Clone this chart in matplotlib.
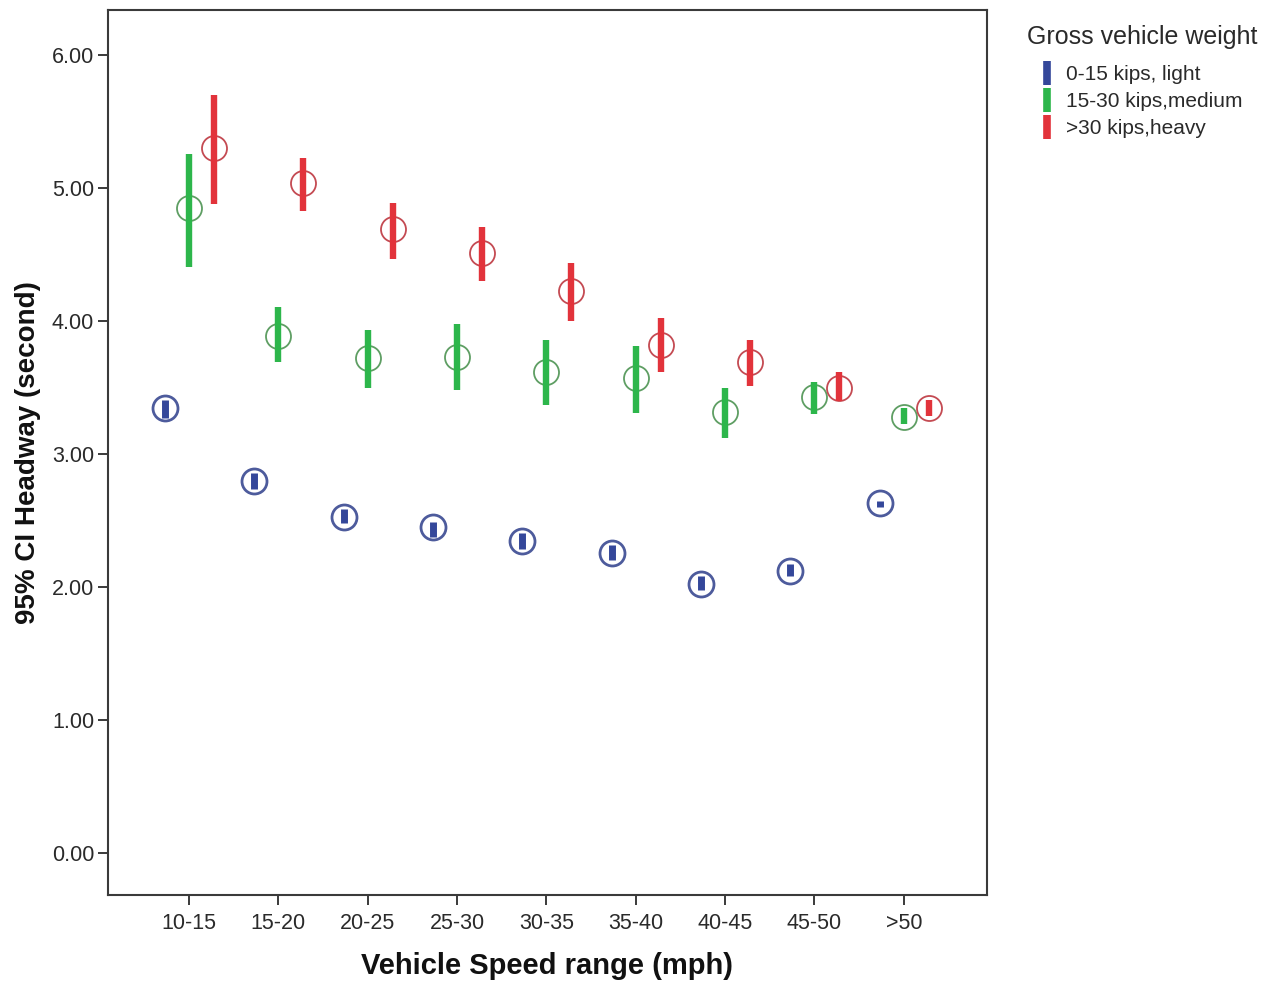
import matplotlib
matplotlib.use("Agg")
import matplotlib.pyplot as plt
from matplotlib.lines import Line2D
import numpy as np

plt.rcParams['font.family'] = ['Liberation Sans', 'DejaVu Sans']

speed_ranges = ["10-15", "15-20", "20-25", "25-30", "30-35", "35-40", "40-45", "45-50", ">50"]
weight_groups = ["0-15 kips, light", "15-30 kips,medium", ">30 kips,heavy"]

light_mean = [3.35, 2.80, 2.53, 2.45, 2.35, 2.26, 2.02, 2.12, 2.63]
light_low = [3.27, 2.74, 2.48, 2.38, 2.29, 2.20, 1.98, 2.08, 2.60]
light_high = [3.41, 2.86, 2.59, 2.49, 2.41, 2.32, 2.08, 2.17, 2.65]

medium_mean = [4.85, 3.89, 3.72, 3.73, 3.62, 3.57, 3.32, 3.43, 3.28]
medium_low = [4.41, 3.69, 3.50, 3.48, 3.37, 3.31, 3.12, 3.30, 3.23]
medium_high = [5.26, 4.11, 3.93, 3.98, 3.86, 3.81, 3.50, 3.54, 3.35]

heavy_mean = [5.30, 5.04, 4.69, 4.51, 4.23, 3.82, 3.69, 3.50, 3.35]
heavy_low = [4.88, 4.83, 4.47, 4.30, 4.00, 3.62, 3.51, 3.40, 3.29]
heavy_high = [5.70, 5.23, 4.89, 4.71, 4.44, 4.02, 3.86, 3.62, 3.41]

y_ticks = [0, 1, 2, 3, 4, 5, 6]

groups = [
    dict(mean=light_mean, low=light_low, high=light_high, offset=-0.27,
         bar="#34479a", ring="#4d5b9c", ring_w=2.0, bar_w=5.0),
    dict(mean=medium_mean, low=medium_low, high=medium_high, offset=0.0,
         bar="#2db64b", ring="#5e9e63", ring_w=1.3, bar_w=4.6),
    dict(mean=heavy_mean, low=heavy_low, high=heavy_high, offset=0.28,
         bar="#e2333b", ring="#c44a52", ring_w=1.3, bar_w=4.6),
]

fig = plt.figure(figsize=(12.7, 9.83), dpi=100)
ax = fig.add_axes([0.0850, 0.0895, 0.6921, 0.9003])

x = np.arange(len(speed_ranges))
for g in groups:
    xs = x + g["offset"]
    ax.plot(xs, g["mean"], linestyle="none", marker="o", markersize=18,
            markerfacecolor="none", markeredgecolor=g["ring"],
            markeredgewidth=g["ring_w"], zorder=2)
    ax.vlines(xs, g["low"], g["high"], colors=g["bar"], linewidth=g["bar_w"],
              capstyle="butt", zorder=3)

ax.set_xlim(-0.906, 8.93)
ax.set_ylim(-0.316, 6.34)
ax.set_xticks(x)
ax.set_xticklabels(speed_ranges)
ax.set_yticks(y_ticks)
ax.set_yticklabels([f"{v:.2f}" for v in y_ticks])
ax.tick_params(axis="both", direction="out", length=7, width=1.4,
               color="#3a3a3a", labelsize=15.5, labelcolor="#2a2a2a")
ax.tick_params(axis="x", pad=6)
ax.tick_params(axis="y", pad=3)
for s in ax.spines.values():
    s.set_color("#3a3a3a")
    s.set_linewidth(1.5)

ax.set_xlabel("Vehicle Speed range (mph)", fontsize=21, fontweight="bold",
              labelpad=13, color="#111111")
ax.set_ylabel("95% CI Headway (second)", fontsize=20, fontweight="bold",
              labelpad=8, color="#111111")

fig.text(1027 / 1270, 1 - 37 / 983, "Gross vehicle weight", fontsize=18,
         ha="left", va="center", color="#2a2a2a")
handles = [Line2D([], [], linestyle="none", marker="|", markersize=17,
                  markeredgewidth=5.5, color=g["bar"]) for g in groups]
leg = fig.legend(handles, weight_groups, loc="upper left",
                 bbox_to_anchor=(1041 / 1270, 1 - 65 / 983), frameon=False,
                 fontsize=15, handlelength=0.6, handletextpad=0.6,
                 labelspacing=0.38, borderpad=0, borderaxespad=0)
for t in leg.get_texts():
    t.set_color("#2a2a2a")

fig.savefig("out.png", dpi=100)
